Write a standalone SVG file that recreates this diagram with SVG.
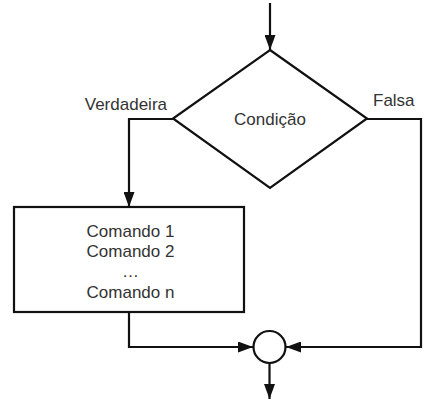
<svg xmlns="http://www.w3.org/2000/svg" width="440" height="407" viewBox="0 0 440 407">
<defs>
<marker id="arr" viewBox="0 0 15 11" refX="15" refY="5.5" markerWidth="15" markerHeight="11" markerUnits="userSpaceOnUse" orient="auto">
<path d="M0,0 L15,5.5 L0,11 Z" fill="#111"/>
</marker>
<style>
.ln{fill:none;stroke:#111;stroke-width:2.2}
.sh{fill:#fff;stroke:#111;stroke-width:2.2}
.t{font-family:"Liberation Sans",Arial,sans-serif;font-size:17px;fill:#333}
</style>
</defs>
<rect width="440" height="407" fill="#fff"/>
<g id="connectors">
<path class="ln" d="M270,3 L270,50" marker-end="url(#arr)"/>
<path class="ln" d="M173,119 L129,119 L129,207" marker-end="url(#arr)"/>
<path class="ln" d="M367,119 L421,119 L421,347 L286,347" marker-end="url(#arr)"/>
<path class="ln" d="M129,312 L129,347 L253,347" marker-end="url(#arr)"/>
<path class="ln" d="M269.5,363 L269.5,399" marker-end="url(#arr)"/>
</g>
<g id="condicao">
<polygon class="sh" points="270,50 367,118.5 270,188 173,118.5"/>
<text class="t" x="270" y="125" text-anchor="middle">Condição</text>
</g>
<g id="comandos">
<rect class="sh" x="14" y="207" width="230" height="105"/>
<text class="t" x="130.5" y="237" text-anchor="middle">Comando 1</text>
<text class="t" x="130.5" y="257" text-anchor="middle">Comando 2</text>
<text class="t" x="130.5" y="277" text-anchor="middle">…</text>
<text class="t" x="130.5" y="298" text-anchor="middle">Comando n</text>
</g>
<g id="juncao">
<circle class="sh" cx="269.5" cy="347" r="16"/>
</g>
<g id="labels">
<text class="t" x="167" y="110" text-anchor="end">Verdadeira</text>
<text class="t" x="373" y="106">Falsa</text>
</g>
</svg>
